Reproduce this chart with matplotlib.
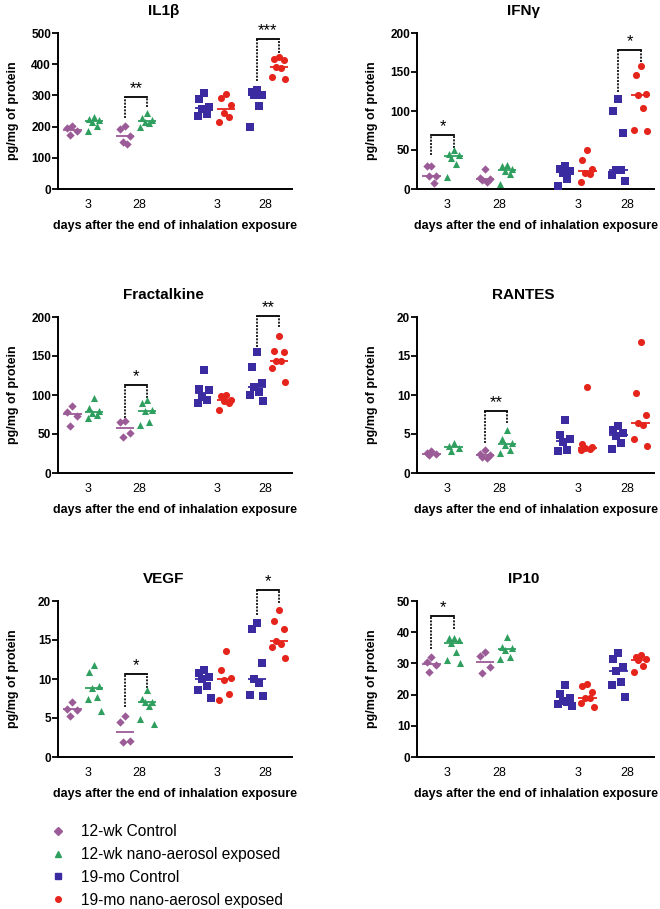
import numpy as np
import matplotlib.pyplot as plt
from matplotlib.lines import Line2D

plt.rcParams['font.family'] = ['Liberation Sans', 'DejaVu Sans']

groups = ["12-wk Control", "12-wk nano-aerosol exposed",
          "19-mo Control", "19-mo nano-aerosol exposed"]
colors = ["#9b5b97", "#2e9f5e", "#3a2ba0", "#e5241c"]
markers = ["D", "^", "s", "o"]
day_labels = ["3", "28", "3", "28"]

# values per panel, order: 12wk-3 ctrl, 12wk-3 exp, 12wk-28 ctrl, 12wk-28 exp,
# 19mo-3 ctrl, 19mo-3 exp, 19mo-28 ctrl, 19mo-28 exp
il1b = [[201, 195, 185, 174], [232, 225, 220, 214, 202, 185],
        [201, 192, 169, 150, 143], [243, 226, 220, 215, 212, 200],
        [307, 288, 263, 257, 240, 234], [306, 292, 270, 242, 232, 215],
        [316, 310, 302, 300, 266, 198], [422, 418, 414, 391, 388, 358, 353]]
ifng = [[30, 30, 17, 17, 8], [50, 45, 44, 40, 32, 16],
        [26, 14, 13, 11, 9], [31, 29, 26, 23, 19, 6],
        [30, 26, 23, 21, 13, 4], [50, 37, 26, 21, 19, 9],
        [116, 100, 72, 25, 24, 18, 10], [158, 146, 122, 121, 104, 76, 74]]
fractalkine = [[86, 78, 73, 60], [96, 83, 80, 77, 75, 70],
               [67, 65, 51, 46], [93, 90, 81, 79, 66, 61],
               [132, 108, 107, 97, 94, 90], [100, 99, 94, 92, 90, 81],
               [155, 136, 116, 110, 104, 100, 92], [176, 157, 155, 144, 143, 135, 117]]
rantes = [[2.8, 2.6, 2.4, 2.3], [3.8, 3.4, 3.2, 2.8],
          [2.9, 2.5, 2.3, 2.1, 1.9], [5.5, 4.4, 3.9, 3.6, 3.0, 2.6],
          [6.8, 4.9, 4.3, 4.0, 2.9, 2.8], [11.0, 3.7, 3.3, 3.2, 3.1, 3.0],
          [6.0, 5.5, 5.1, 4.7, 3.9, 3.1], [16.8, 10.2, 7.5, 6.4, 6.2, 4.4, 3.5]]
vegf = [[7.0, 6.2, 6.0, 5.3], [11.8, 10.9, 9.1, 8.9, 7.7, 7.4, 5.9],
        [5.3, 4.5, 2.0, 1.9], [8.6, 7.4, 7.1, 7.0, 6.6, 4.9, 4.2],
        [11.2, 10.8, 10.3, 10.0, 9.1, 8.6, 7.6], [13.6, 11.1, 10.1, 9.9, 8.1, 7.3],
        [17.2, 16.4, 12.0, 10.0, 9.5, 8.0, 7.8], [18.9, 17.5, 16.4, 14.9, 14.5, 14.1, 12.7]]
ip10 = [[32.2, 30.4, 29.5, 27.2], [38.3, 38.0, 37.6, 36.5, 33.6, 31.2, 30.1],
        [33.6, 32.4, 28.8, 26.9], [38.6, 35.4, 34.8, 34.4, 32.0, 31.3],
        [23.2, 20.1, 19.0, 18.0, 17.5, 17.1, 16.4], [23.5, 22.8, 20.9, 19.0, 18.8, 17.3, 15.9],
        [33.4, 31.5, 28.8, 27.6, 24.0, 23.2, 19.3], [32.8, 32.0, 31.5, 31.0, 29.1, 27.4]]

# significance: (left group, right group, bracket y, left foot, right foot, stars)
sig_il1b = [(2, 3, 294, 228, 262, "**"), (6, 7, 481, 345, 436, "***")]
sig_ifng = [(0, 1, 69, 43, 53, "*"), (6, 7, 178, 124, 163, "*")]
sig_fract = [(2, 3, 113, 70, 96, "*"), (6, 7, 201, 162, 187, "**")]
sig_rantes = [(2, 3, 8.0, 3.9, 6.4, "**")]
sig_vegf = [(2, 3, 10.7, 6.4, 8.8, "*"), (6, 7, 21.4, 18.2, 19.7, "*")]
sig_ip10 = [(0, 1, 45.1, 34.7, 41.0, "*")]

panels = [("IL1β", il1b, 500, 100, sig_il1b),
          ("IFNγ", ifng, 200, 50, sig_ifng),
          ("Fractalkine", fractalkine, 200, 50, sig_fract),
          ("RANTES", rantes, 20, 5, sig_rantes),
          ("VEGF", vegf, 20, 5, sig_vegf),
          ("IP10", ip10, 50, 10, sig_ip10)]

xpos = np.array([1, 2, 3.4, 4.4, 7, 8, 9.4, 10.4])
tick_pos = [1.7, 4.05, 7.6, 9.8]
jitter = [0.0, -0.22, 0.22, -0.11, 0.11, -0.3, 0.3]
group_of = [0, 1, 0, 1, 2, 3, 2, 3]

fig = plt.figure(figsize=(6.6, 9.09), dpi=100)
lefts = [58 / 660, 417 / 660]
widths = [234 / 660, 237 / 660]
bottoms = [1 - 189 / 909, 1 - 473 / 909, 1 - 757 / 909]
h = 156 / 909

for k, (title, data, ymax, step, sigs) in enumerate(panels):
    r, c = divmod(k, 2)
    ax = fig.add_axes([lefts[c], bottoms[r], widths[c], h])
    for i, vals in enumerate(data):
        g = group_of[i]
        vals = np.array(vals, dtype=float)
        xs = xpos[i] + np.array(jitter[:len(vals)])
        ax.scatter(xs, vals, marker=markers[g], color=colors[g],
                   s=26 if markers[g] != "D" else 18, linewidths=0, zorder=3,
                   clip_on=False)
        ax.hlines(np.median(vals), xpos[i] - 0.42, xpos[i] + 0.42,
                  color=colors[g], lw=1.3, zorder=2)
    for a, b, yb, ya1, ya2, st in sigs:
        ax.plot([xpos[a], xpos[b]], [yb, yb], color="black", lw=1.3, clip_on=False)
        ax.plot([xpos[a], xpos[a]], [ya1, yb], color="black", lw=1.2,
                ls=(0, (1.2, 0.8)), clip_on=False)
        ax.plot([xpos[b], xpos[b]], [ya2, yb], color="black", lw=1.2,
                ls=(0, (1.2, 0.8)), clip_on=False)
        ax.text((xpos[a] + xpos[b]) / 2, yb + ymax * 0.005, st, ha="center",
                va="bottom", fontsize=12, clip_on=False)
    ax.set_ylim(0, ymax)
    ax.set_xlim(0.35, 11.0)
    ax.set_yticks(np.arange(0, ymax + step / 2, step))
    ax.set_xticks(tick_pos)
    ax.set_xticklabels(day_labels, fontsize=9)
    ax.tick_params(axis="x", length=0, pad=7)
    ax.tick_params(axis="y", length=4, width=1.3, pad=1, labelsize=8.5)
    for lab in ax.get_yticklabels():
        lab.set_fontweight("bold")
    for sp in ["top", "right"]:
        ax.spines[sp].set_visible(False)
    for sp in ["left", "bottom"]:
        ax.spines[sp].set_linewidth(1.4)
    ax.set_title(title, fontsize=11, fontweight="bold", x=0.45, pad=13)
    ax.set_ylabel("pg/mg of protein", fontsize=9, fontweight="bold")
    ax.yaxis.set_label_coords(-39 / (widths[c] * 660), 0.5)
    ax.set_xlabel("days after the end of inhalation exposure", fontsize=9,
                  fontweight="bold", labelpad=7)

handles = [Line2D([], [], marker=markers[g], color=colors[g], ls="none",
                  markersize=4) for g in range(4)]
fig.legend(handles, groups, loc="upper left", bbox_to_anchor=(0.066, 1 - 818 / 909),
           frameon=False, fontsize=11.2, handlelength=1.0, handletextpad=1.0,
           labelspacing=0.5, borderaxespad=0)

fig.savefig("out.png", dpi=100)
